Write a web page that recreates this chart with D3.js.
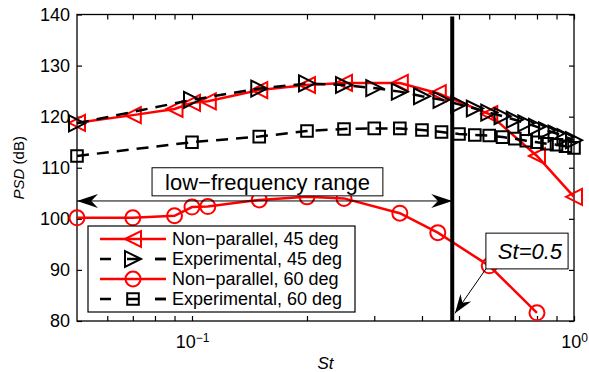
<!DOCTYPE html>
<html>
<head>
<meta charset="utf-8">
<script src="https://cdn.jsdelivr.net/npm/d3@7"></script>
<style>
body { margin: 0; background: #fff; }
svg { display: block; font-family: "Liberation Sans", Arial, sans-serif; }
</style>
</head>
<body>
<svg id="GraphPSD" width="589" height="372"></svg>
<script>
// values (St, PSD in dB)
var stNonPar45  = [0.05, 0.07, 0.09, 0.1, 0.11, 0.15, 0.2, 0.25, 0.35, 0.44, 0.6, 0.8, 1.0];
var psdNonPar45 = [118.8, 120.3, 121.5, 122.7, 123.0, 125.2, 126.2, 126.6, 126.6, 124.6, 120.5, 112.3, 104.3];

var stNonPar60  = [0.05, 0.07, 0.09, 0.1, 0.11, 0.15, 0.2, 0.25, 0.35, 0.44, 0.6, 0.8];
var psdNonPar60 = [100.2, 100.2, 100.6, 102.3, 102.4, 103.7, 104.3, 104.0, 101.1, 97.3, 90.8, 81.6];

var stExp    = [0.05, 0.1, 0.15, 0.2, 0.25, 0.3, 0.35, 0.4, 0.45, 0.5, 0.55, 0.6, 0.65, 0.7, 0.75, 0.8, 0.85, 0.9, 0.95, 1.0];
var psdExp45 = [118.7, 123.3, 125.5, 126.5, 126.2, 125.6, 124.9, 124.0, 123.3, 122.4, 121.6, 120.8, 120.1, 119.4, 118.7, 118.0, 117.3, 116.7, 116.0, 115.4];
var psdExp60 = [112.3, 115.0, 116.1, 117.2, 117.6, 117.7, 117.7, 117.4, 117.0, 116.6, 116.4, 116.3, 116.0, 115.7, 115.3, 115.0, 114.7, 114.5, 114.2, 113.9];

var seriesNames = ["Non\u2212parallel, 45 deg", "Experimental, 45 deg", "Non\u2212parallel, 60 deg", "Experimental, 60 deg"];

var xTicks = [0.06, 0.07, 0.08, 0.09, 0.1, 0.2, 0.3, 0.4, 0.5, 0.6, 0.7, 0.8, 0.9, 1];
var xLabels = {0.1: "\u22121", 1: "0"};
var yTicks = [80, 90, 100, 110, 120, 130, 140];

// annotations, in data units
var stLine = 0.48;
var lowRangePsd = 103.5;
var lowBox = {st0: 0.0786, st1: 0.316, p0: 110.0, p1: 104.5, text: "low\u2212frequency range"};
var stBox = {st0: 0.588, st1: 0.965, p0: 97.2, p1: 90.2, text: "St=0.5"};
var stArrowTip = {st: 0.488, psd: 81.5};

var red = "#ff0000";

var svg = d3.select("#GraphPSD"),
    margin = {top: 14.5, right: 15, bottom: 51, left: 77},
    width = +svg.attr("width") - margin.left - margin.right,
    height = +svg.attr("height") - margin.top - margin.bottom;

var x = d3.scaleLog().domain([0.05, 1]).range([0, width]);
var y = d3.scaleLinear().domain([80, 140]).range([height, 0]);

var g = svg.append("g")
    .attr("transform", "translate(" + margin.left + "," + margin.top + ")");

// axes, ticks pointing inward like matlab
var bottom = g.append("g")
    .attr("transform", "translate(0," + height + ")")
    .call(d3.axisBottom(x).tickValues(xTicks).tickSize(-5).tickSizeOuter(0).tickPadding(14)
        .tickFormat(function(d) { return xLabels[d] !== undefined ? "10" : ""; }));
bottom.selectAll("text")
    .attr("font-size", "18px")
    .attr("font-family", "Liberation Sans, Arial, sans-serif")
    .each(function(d) {
        if (xLabels[d] === undefined) return;
        d3.select(this).append("tspan")
          .attr("dy", "-0.5em")
          .attr("font-size", "12px")
          .text(xLabels[d]);
    });

g.append("g")
    .call(d3.axisTop(x).tickValues(xTicks).tickSize(-5).tickSizeOuter(0).tickFormat(""));

g.append("g")
    .call(d3.axisLeft(y).tickValues(yTicks).tickSize(-5).tickSizeOuter(0).tickPadding(7))
    .selectAll("text")
    .attr("font-size", "18px")
    .attr("font-family", "Liberation Sans, Arial, sans-serif");

g.append("g")
    .attr("transform", "translate(" + width + ",0)")
    .call(d3.axisRight(y).tickValues(yTicks).tickSize(-5).tickSizeOuter(0).tickFormat(""));

g.selectAll(".domain").remove();
g.selectAll(".tick line").attr("stroke-width", 1.2);

g.append("rect")
    .attr("width", width)
    .attr("height", height)
    .attr("fill", "none")
    .attr("stroke", "black")
    .attr("stroke-width", 1.3);

// axis labels
svg.append("text")
    .attr("x", margin.left + width / 2)
    .attr("y", 369)
    .attr("text-anchor", "middle")
    .attr("font-size", "17px")
    .attr("font-style", "italic")
    .text("St");

var ylab = svg.append("text")
    .attr("transform", "translate(24," + (margin.top + height / 2) + ") rotate(-90)")
    .attr("text-anchor", "middle")
    .attr("font-size", "15px");
ylab.append("tspan").attr("font-style", "italic").text("PSD");
ylab.append("tspan").text(" (dB)");

// markers
function marker(type) {
    var s;
    if (type == "left") { s = 8; return "M" + (-s) + ",0L" + s + "," + (-s) + "L" + s + "," + s + "Z"; }
    if (type == "right") { s = 8; return "M" + s + ",0L" + (-s) + "," + (-s) + "L" + (-s) + "," + s + "Z"; }
    if (type == "square") { s = 5.8; return "M" + (-s) + "," + (-s) + "H" + s + "V" + s + "H" + (-s) + "Z"; }
    s = 7.5;
    return "M" + s + ",0A" + s + "," + s + " 0 1,1 " + (-s) + ",0A" + s + "," + s + " 0 1,1 " + s + ",0Z";
}

var series = [
    {name: seriesNames[0], st: stNonPar45, psd: psdNonPar45, color: red, dash: null, mark: "left"},
    {name: seriesNames[1], st: stExp, psd: psdExp45, color: "black", dash: "12,8", mark: "right"},
    {name: seriesNames[2], st: stNonPar60, psd: psdNonPar60, color: red, dash: null, mark: "circle"},
    {name: seriesNames[3], st: stExp, psd: psdExp60, color: "black", dash: "12,8", mark: "square"}
];

var line = d3.line()
    .x(function(d) { return x(d[0]); })
    .y(function(d) { return y(d[1]); });

series.forEach(function(s) {
    var pts = s.st.map(function(v, i) { return [v, s.psd[i]]; });
    g.append("path")
     .datum(pts)
     .attr("d", line)
     .attr("fill", "none")
     .attr("stroke", s.color)
     .attr("stroke-width", 2.5)
     .attr("stroke-dasharray", s.dash);
    g.selectAll(".m-" + s.mark)
     .data(pts)
     .enter().append("path")
     .attr("class", "m-" + s.mark)
     .attr("transform", function(d) { return "translate(" + x(d[0]) + "," + y(d[1]) + ")"; })
     .attr("d", marker(s.mark))
     .attr("fill", "none")
     .attr("stroke", s.color)
     .attr("stroke-width", 2);
});

// vertical St line
g.append("line")
    .attr("x1", x(stLine)).attr("x2", x(stLine))
    .attr("y1", y(139.6)).attr("y2", y(80))
    .attr("stroke", "black")
    .attr("stroke-width", 4);

// arrow heads (matlab vback2 style)
function head(x1, y1, x2, y2, len, wid) {
    var dx = x2 - x1, dy = y2 - y1, d = Math.sqrt(dx * dx + dy * dy);
    var ux = dx / d, uy = dy / d, nx = -uy, ny = ux;
    var bx = x2 - ux * len, by = y2 - uy * len;
    var kx = x2 - ux * len * 0.68, ky = y2 - uy * len * 0.68;
    return "M" + x2 + "," + y2 +
        "L" + (bx + nx * wid / 2) + "," + (by + ny * wid / 2) +
        "L" + kx + "," + ky +
        "L" + (bx - nx * wid / 2) + "," + (by - ny * wid / 2) + "Z";
}

var ax0 = x(0.05), ax1 = x(stLine), ay = y(lowRangePsd);
g.append("line")
    .attr("x1", ax0).attr("x2", ax1).attr("y1", ay).attr("y2", ay)
    .attr("stroke", "black").attr("stroke-width", 1);
g.append("path").attr("d", head(ax1, ay, ax0, ay, 21, 14)).attr("fill", "black");
g.append("path").attr("d", head(ax0, ay, ax1, ay, 21, 14)).attr("fill", "black");

// text boxes
function textBox(b, anchor, size, italic) {
    var bx0 = x(b.st0), bx1 = x(b.st1), by0 = y(b.p0), by1 = y(b.p1);
    g.append("rect")
     .attr("x", bx0).attr("y", by0)
     .attr("width", bx1 - bx0).attr("height", by1 - by0)
     .attr("fill", "white")
     .attr("stroke", "black")
     .attr("stroke-width", 1);
    g.append("text")
     .attr("x", anchor == "end" ? bx1 - 6 : (bx0 + bx1) / 2)
     .attr("y", (by0 + by1) / 2)
     .attr("dy", "0.36em")
     .attr("text-anchor", anchor)
     .attr("font-size", size)
     .attr("font-style", italic ? "italic" : null)
     .text(b.text);
}
textBox(lowBox, "middle", "22px", false);
textBox(stBox, "end", "22px", true);

var sx0 = x(stBox.st0), sy0 = y(stBox.p1), sx1 = x(stArrowTip.st), sy1 = y(stArrowTip.psd);
g.append("line")
    .attr("x1", sx0).attr("y1", sy0).attr("x2", sx1).attr("y2", sy1)
    .attr("stroke", "black").attr("stroke-width", 1);
g.append("path").attr("d", head(sx0, sy0, sx1, sy1, 19, 13)).attr("fill", "black");

// legend
var lg = g.append("g").attr("transform", "translate(11,211.5)");
lg.append("rect")
    .attr("width", 267).attr("height", 86)
    .attr("fill", "white").attr("stroke", "black").attr("stroke-width", 1.2);

var items = lg.selectAll(".item")
    .data(series)
    .enter().append("g")
    .attr("class", "item")
    .attr("transform", function(d, i) { return "translate(0," + (13 + i * 20) + ")"; });
items.append("line")
    .attr("x1", 12).attr("x2", 78).attr("y1", 0).attr("y2", 0)
    .attr("stroke", function(d) { return d.color; })
    .attr("stroke-width", 2.5)
    .attr("stroke-dasharray", function(d) { return d.dash ? "11,44" : null; })
    .attr("stroke-dashoffset", 0);
items.filter(function(d) { return d.dash; }).append("line")
    .attr("x1", 67).attr("x2", 78).attr("y1", 0).attr("y2", 0)
    .attr("stroke", "black").attr("stroke-width", 2.5);
items.filter(function(d) { return d.dash; }).append("line")
    .attr("x1", 39).attr("x2", 51).attr("y1", 0).attr("y2", 0)
    .attr("stroke", "black").attr("stroke-width", 2.5);
items.append("path")
    .attr("transform", "translate(45,0)")
    .attr("d", function(d) { return marker(d.mark); })
    .attr("fill", "none")
    .attr("stroke", function(d) { return d.color; })
    .attr("stroke-width", 2);
items.append("text")
    .attr("x", 84)
    .attr("dy", "0.36em")
    .attr("font-size", "18px")
    .text(function(d) { return d.name; });
</script>
</body>
</html>
